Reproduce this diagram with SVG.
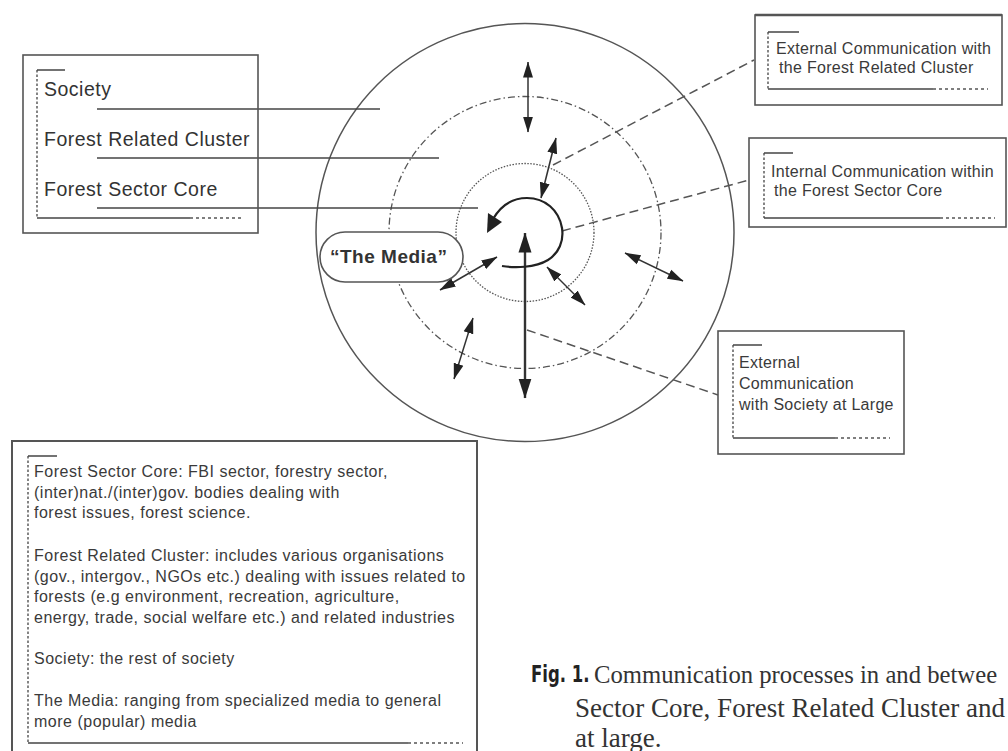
<svg xmlns="http://www.w3.org/2000/svg" width="1008" height="751" viewBox="0 0 1008 751">
<style>
.bg{fill:#fff}
.box{fill:none;stroke:#555;stroke-width:1.6}
.ln{fill:none;stroke:#444;stroke-width:1.5}
.dl{fill:none;stroke:#444;stroke-width:1.3;stroke-dasharray:2.5 2}
.dsh{fill:none;stroke:#555;stroke-width:1.3;stroke-dasharray:3 3}
.lab{font-family:"Liberation Sans",Arial,sans-serif;font-size:19.5px;letter-spacing:0.5px;fill:#333}
.sm{font-family:"Liberation Sans",Arial,sans-serif;font-size:16px;letter-spacing:0.3px;fill:#3a3a3a}
.leg{font-family:"Liberation Sans",Arial,sans-serif;font-size:16px;letter-spacing:0.5px;fill:#3a3a3a}
.cap{font-family:"Liberation Serif","Times New Roman",serif;font-size:27px;fill:#333}
.arr{fill:none;stroke:#333;stroke-width:1.5;marker-start:url(#ah);marker-end:url(#ah)}
.con{fill:none;stroke:#555;stroke-width:1.5;stroke-dasharray:9 5}
</style>
<defs>
<marker id="ah" markerWidth="16" markerHeight="11" refX="15.5" refY="5.5" orient="auto-start-reverse" markerUnits="userSpaceOnUse">
<path d="M0,0.5 L16,5.5 L0,10.5 Z" fill="#222"/>
</marker>
<marker id="ahb" markerWidth="20" markerHeight="14" refX="19.5" refY="7" orient="auto-start-reverse" markerUnits="userSpaceOnUse">
<path d="M0,0.5 L20,7 L0,13.5 Z" fill="#222"/>
</marker>
</defs>
<rect class="bg" x="0" y="0" width="1008" height="751"/>

<g id="circles">
<circle cx="525" cy="232.5" r="209" fill="none" stroke="#555" stroke-width="1.5"/>
<circle cx="525" cy="232.5" r="136" fill="none" stroke="#555" stroke-width="1.3" stroke-dasharray="7 3 1.5 3"/>
<circle cx="525" cy="232.5" r="69" fill="none" stroke="#555" stroke-width="1.3" stroke-dasharray="1.5 1.5"/>
</g>

<g id="connectors">
<line class="con" x1="553" y1="165" x2="754" y2="60"/>
<line class="con" x1="562" y1="231" x2="749" y2="180"/>
<line class="con" x1="527" y1="330" x2="718" y2="395"/>
<line class="ln" x1="97" y1="109" x2="380" y2="109"/>
<line class="ln" x1="97" y1="158" x2="439" y2="158"/>
<line class="ln" x1="97" y1="208" x2="478" y2="208"/>
</g>

<g id="arrows">
<line class="arr" x1="528" y1="62" x2="528" y2="132"/>
<line class="arr" x1="556" y1="138" x2="541" y2="198"/>
<line x1="525" y1="233" x2="525" y2="398" fill="none" stroke="#333" stroke-width="2.4" marker-start="url(#ahb)" marker-end="url(#ahb)"/>
<line class="arr" x1="497" y1="257" x2="440" y2="290"/>
<line class="arr" x1="547" y1="267" x2="585" y2="305"/>
<line class="arr" x1="625" y1="253" x2="683" y2="281"/>
<line class="arr" x1="473" y1="318" x2="454" y2="379"/>
<path d="M502 266 C514 268 535 268 548 260 C559 253 564 241 562 228 C559 210 545 198 527 198 C511 198 500 207 493 219" fill="none" stroke="#222" stroke-width="2.2"/>
<path d="M487 233 L488 213 L502 222 Z" fill="#222"/>
</g>

<g id="legend-levels">
<rect class="box" x="23" y="55" width="235" height="178"/>
<line class="dl" x1="37" y1="70" x2="37" y2="218"/>
<line class="ln" x1="37" y1="70" x2="65" y2="70"/>
<line class="ln" x1="37" y1="218" x2="190" y2="218"/>
<line class="dsh" x1="190" y1="218" x2="243" y2="218"/>
<text class="lab" x="44" y="95.5">Society</text>
<text class="lab" x="44" y="145.5">Forest Related Cluster</text>
<text class="lab" x="44" y="195.5">Forest Sector Core</text>
</g>

<g id="media">
<rect x="320" y="232" width="143" height="50" rx="25" ry="25" fill="#fff" stroke="#555" stroke-width="1.6"/>
<text x="330" y="262.5" font-family="'Liberation Sans',Arial,sans-serif" font-size="19" font-weight="bold" letter-spacing="0.5" fill="#333">“The Media”</text>
</g>

<g id="box-external-cluster">
<rect class="box" x="755" y="15" width="247" height="90"/>
<line x1="755" y1="15" x2="1002" y2="15" stroke="#555" stroke-width="2.4"/>
<line class="dl" x1="768" y1="32" x2="768" y2="89"/>
<line class="ln" x1="768" y1="32" x2="799" y2="32"/>
<line class="ln" x1="768" y1="89" x2="933" y2="89"/>
<line class="dsh" x1="933" y1="89" x2="988" y2="89"/>
<text class="sm" x="776" y="53.5">External Communication with</text>
<text class="sm" x="779" y="73">the Forest Related Cluster</text>
</g>

<g id="box-internal-core">
<rect class="box" x="749" y="138" width="257" height="89"/>
<line class="dl" x1="764" y1="153" x2="764" y2="218"/>
<line class="ln" x1="764" y1="153" x2="793" y2="153"/>
<line class="ln" x1="764" y1="218" x2="940" y2="218"/>
<line class="dsh" x1="940" y1="218" x2="995" y2="218"/>
<text class="sm" x="771" y="177">Internal Communication within</text>
<text class="sm" x="774" y="196">the Forest Sector Core</text>
</g>

<g id="box-external-society">
<rect class="box" x="718" y="331" width="186" height="123"/>
<line class="dl" x1="733" y1="345" x2="733" y2="438"/>
<line class="ln" x1="733" y1="345" x2="762" y2="345"/>
<line class="ln" x1="733" y1="438" x2="835" y2="438"/>
<line class="dsh" x1="835" y1="438" x2="890" y2="438"/>
<text class="sm" x="739" y="368">External</text>
<text class="sm" x="739" y="388.5">Communication</text>
<text class="sm" x="739" y="410">with Society at Large</text>
</g>

<g id="legend-definitions">
<rect x="12" y="441" width="465" height="330" fill="none" stroke="#555" stroke-width="2"/>
<line class="dl" x1="28" y1="456" x2="28" y2="743"/>
<line class="ln" x1="28" y1="456" x2="57" y2="456"/>
<line class="ln" x1="28" y1="743" x2="408" y2="743"/>
<line class="dsh" x1="408" y1="743" x2="463" y2="743"/>
<text class="leg" x="34" y="477">Forest Sector Core: FBI sector, forestry sector,</text>
<text class="leg" x="34" y="498">(inter)nat./(inter)gov. bodies dealing with</text>
<text class="leg" x="34" y="518">forest issues, forest science.</text>
<text class="leg" x="34" y="561">Forest Related Cluster: includes various organisations</text>
<text class="leg" x="34" y="582">(gov., intergov., NGOs etc.) dealing with issues related to</text>
<text class="leg" x="34" y="602">forests (e.g environment, recreation, agriculture,</text>
<text class="leg" x="34" y="623">energy, trade, social welfare etc.) and related industries</text>
<text class="leg" x="34" y="664">Society: the rest of society</text>
<text class="leg" x="34" y="706">The Media: ranging from specialized media to general</text>
<text class="leg" x="34" y="727">more (popular) media</text>
</g>

<g id="caption">
<text transform="translate(531,682) scale(1,1.4)" x="0" y="0" font-family="'DejaVu Sans',sans-serif" font-weight="bold" font-size="16.5" fill="#222">Fig. 1.</text>
<text class="cap" transform="translate(594,683) scale(0.95,1)" x="0" y="0" style="font-size:26px">Communication processes in and betwee</text>
<text class="cap" x="575" y="717" textLength="430" lengthAdjust="spacing">Sector Core, Forest Related Cluster and</text>
<text class="cap" x="575" y="747">at large.</text>
</g>
</svg>
